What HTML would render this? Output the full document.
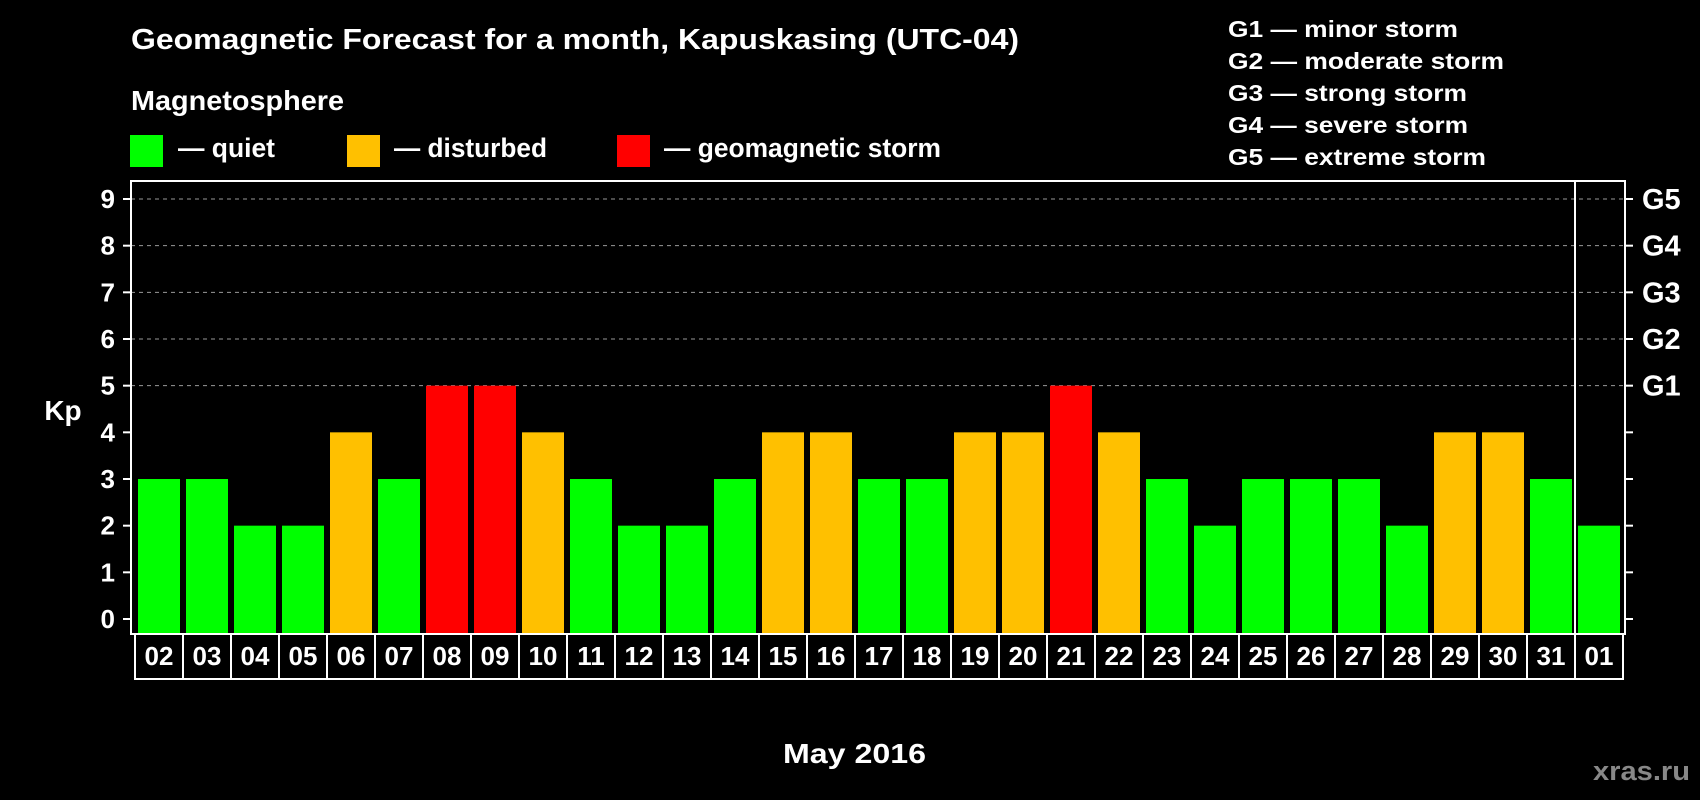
<!DOCTYPE html>
<html><head><meta charset="utf-8"><style>
body{margin:0;background:#000;}
svg{display:block;font-family:"Liberation Sans",Arial,sans-serif;font-weight:bold;}
</style></head><body>
<svg id="chart" width="1700" height="800" viewBox="0 0 1700 800" xmlns="http://www.w3.org/2000/svg">
<rect width="1700" height="800" fill="#000"/>
<text x="131" y="49" fill="#fff" font-size="29" textLength="888" lengthAdjust="spacingAndGlyphs">Geomagnetic Forecast for a month, Kapuskasing (UTC-04)</text>
<text x="131" y="110" fill="#fff" font-size="28" textLength="213" lengthAdjust="spacingAndGlyphs">Magnetosphere</text>
<g><rect x="130" y="135" width="33" height="32" fill="#00ff00"/><text x="178" y="157" fill="#fff" font-size="27" textLength="97" lengthAdjust="spacingAndGlyphs">— quiet</text></g>
<g><rect x="347" y="135" width="33" height="32" fill="#ffc000"/><text x="394" y="157" fill="#fff" font-size="27" textLength="153" lengthAdjust="spacingAndGlyphs">— disturbed</text></g>
<g><rect x="617" y="135" width="33" height="32" fill="#ff0000"/><text x="664" y="157" fill="#fff" font-size="27" textLength="277" lengthAdjust="spacingAndGlyphs">— geomagnetic storm</text></g>
<g fill="#fff" font-size="23">
<text x="1228" y="37" textLength="230" lengthAdjust="spacingAndGlyphs">G1 — minor storm</text>
<text x="1228" y="69" textLength="276" lengthAdjust="spacingAndGlyphs">G2 — moderate storm</text>
<text x="1228" y="101" textLength="239" lengthAdjust="spacingAndGlyphs">G3 — strong storm</text>
<text x="1228" y="133" textLength="240" lengthAdjust="spacingAndGlyphs">G4 — severe storm</text>
<text x="1228" y="165" textLength="258" lengthAdjust="spacingAndGlyphs">G5 — extreme storm</text>
</g>
<text x="63" y="420" fill="#fff" font-size="28" text-anchor="middle">Kp</text>
<text x="783" y="763" fill="#fff" font-size="28" textLength="143" lengthAdjust="spacingAndGlyphs">May 2016</text>
<text x="1593" y="780" fill="#888" font-size="27" textLength="97" lengthAdjust="spacingAndGlyphs">xras.ru</text>
<g id="grid"></g>
<g id="bars"></g>
<g id="cells"></g>
<g id="axes"></g>
</svg>
<script>
const days = ["02","03","04","05","06","07","08","09","10","11","12","13","14","15","16","17","18","19","20","21","22","23","24","25","26","27","28","29","30","31","01"];
const kpValues = [3,3,2,2,4,3,5,5,4,3,2,2,3,4,4,3,3,4,4,5,4,3,2,3,3,3,2,4,4,3,2];
const yTicks = [0,1,2,3,4,5,6,7,8,9];
const gLabels = ["G1","G2","G3","G4","G5"];
const gLevels = [5,6,7,8,9];

const NS = "http://www.w3.org/2000/svg";
const L = 131, R = 1625, T = 181, B = 634, CB = 679;
const y = v => 619 - v * (420 / 9);
const x0 = i => 135 + i * 48;
function mk(tag, attrs, parent){const e=document.createElementNS(NS,tag);for(const k in attrs)e.setAttribute(k,attrs[k]);parent.appendChild(e);return e;}
const grid = document.getElementById('grid'), bars = document.getElementById('bars'), cells = document.getElementById('cells'), axes = document.getElementById('axes');

yTicks.forEach(t => {
  if (t >= 5) {
    const g = mk('line',{x1:L,x2:R,y1:y(t),y2:y(t),stroke:'#999','stroke-width':1,'stroke-dasharray':'4,4'},grid);
    
    
  }
  const tk = mk('line',{x1:L-8,x2:L,y1:y(t),y2:y(t),stroke:'#fff','stroke-width':2},axes);
  
  
  const tr = mk('line',{x1:R,x2:R+8,y1:y(t),y2:y(t),stroke:'#fff','stroke-width':2},axes);
  
  
  const lb = mk('text',{x:115,y:y(t)+9,fill:'#fff','font-size':26,'text-anchor':'end'},axes);
  lb.textContent = t;
  
  
});
gLabels.forEach((g,i) => {
  const lb = mk('text',{x:1642,y:y(gLevels[i])+10,fill:'#fff','font-size':29},axes);
  lb.textContent = g;
  
  
});

kpValues.forEach((v,i) => {
  const col = v >= 5 ? '#ff0000' : (v >= 4 ? '#ffc000' : '#00ff00');
  const b = mk('rect',{x:x0(i)+3,y:y(v),width:42,height:B - y(v),fill:col},bars);
  
  
  const c = mk('rect',{x:x0(i),y:B,width:48,height:CB-B,fill:'none',stroke:'#fff','stroke-width':2},cells);
  
  
  const t = mk('text',{x:x0(i)+24,y:665,fill:'#fff','font-size':26,'text-anchor':'middle'},cells);
  t.textContent = days[i];
  
  
});

const frame = mk('rect',{x:L,y:T,width:R-L,height:B-T,fill:'none',stroke:'#fff','stroke-width':2},axes);


const sep = mk('line',{x1:x0(kpValues.length-1),x2:x0(kpValues.length-1),y1:T,y2:CB,stroke:'#fff','stroke-width':2},axes);


</script>
</body></html>
